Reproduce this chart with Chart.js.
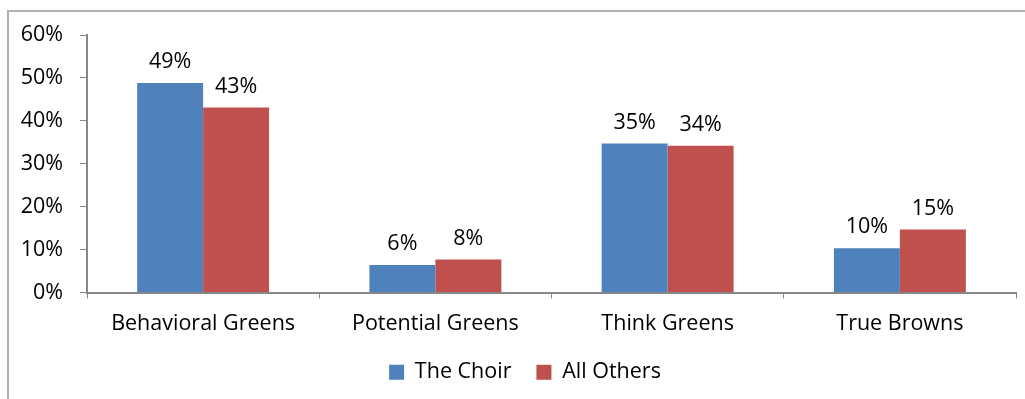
<!DOCTYPE html>
<html>
<head>
<meta charset="utf-8">
<script src="https://cdn.jsdelivr.net/npm/chart.js@4/dist/chart.umd.min.js"></script>
<style>
  body { margin: 0; background: #fff; }
  #wrap { position: relative; width: 1025px; height: 399px; overflow: hidden; }
  #frame { position: absolute; left: 7px; top: 10px; width: 1100px; height: 500px;
           border-left: 2px solid #b0b0b0; border-top: 2px solid #b0b0b0; }
  canvas { position: absolute; left: 0; top: 0; }
</style>
</head>
<body>
<div id="wrap">
  <div id="frame"></div>
  <canvas id="chart" width="1025" height="399"></canvas>
</div>
<script>
const categories = ['Behavioral Greens', 'Potential Greens', 'Think Greens', 'True Browns'];
const choir = [48.8, 6.4, 34.7, 10.3];
const allOthers = [43.1, 7.7, 34.2, 14.7];
const yTicks = [0, 10, 20, 30, 40, 50, 60];

const FONT = "'Open Sans', sans-serif";
const FSIZE = 21.5;
const AXIS = '#868686';

// percentage labels above each bar
const barLabels = {
  id: 'barLabels',
  afterDatasetsDraw(chart) {
    const ctx = chart.ctx;
    ctx.save();
    ctx.font = FSIZE + 'px ' + FONT;
    ctx.fillStyle = '#000';
    ctx.textAlign = 'center';
    ctx.textBaseline = 'middle';
    chart.data.datasets.forEach((ds, i) => {
      chart.getDatasetMeta(i).data.forEach((bar, j) => {
        ctx.fillText(Math.round(ds.data[j]) + '%', bar.x, bar.y - 21);
      });
    });
    ctx.restore();
  }
};

// nudge the legend a bit right so it sits under the plot area
const legendShift = {
  id: 'legendShift',
  afterLayout(chart) {
    if (chart.legend) {
      chart.legend.left += 17;
      chart.legend.right += 17;
    }
  }
};

new Chart(document.getElementById('chart'), {
  type: 'bar',
  data: {
    labels: categories,
    datasets: [
      { label: 'The Choir', data: choir, backgroundColor: '#4F81BD' },
      { label: 'All Others', data: allOthers, backgroundColor: '#C0504D' }
    ]
  },
  options: {
    responsive: false,
    animation: false,
    layout: { padding: { left: 0, top: 35, right: 9, bottom: 6 } },
    datasets: { bar: { categoryPercentage: 0.568, barPercentage: 1 } },
    scales: {
      x: {
        grid: { display: true, drawOnChartArea: false, drawTicks: true, tickLength: 6, offset: true, color: AXIS },
        border: { display: true, color: AXIS, width: 2 },
        ticks: { color: '#000', font: { family: FONT, size: FSIZE }, padding: 12, maxRotation: 0 },
        afterFit(scale) { scale.height = 44; }
      },
      y: {
        min: 0, max: 60,
        afterBuildTicks(scale) { scale.ticks = yTicks.map(v => ({ value: v })); },
        grid: { display: true, drawOnChartArea: false, drawTicks: true, tickLength: 7, color: AXIS },
        border: { display: true, color: AXIS, width: 2 },
        ticks: { color: '#000', font: { family: FONT, size: FSIZE }, padding: 17, callback: v => v + '%' },
        afterFit(scale) { scale.width = 87; }
      }
    },
    plugins: {
      legend: {
        position: 'bottom',
        labels: { boxWidth: 15, boxHeight: 15, padding: 25, color: '#000', font: { family: FONT, size: FSIZE } }
      },
      tooltip: { enabled: false }
    }
  },
  plugins: [barLabels, legendShift]
});
</script>
</body>
</html>
